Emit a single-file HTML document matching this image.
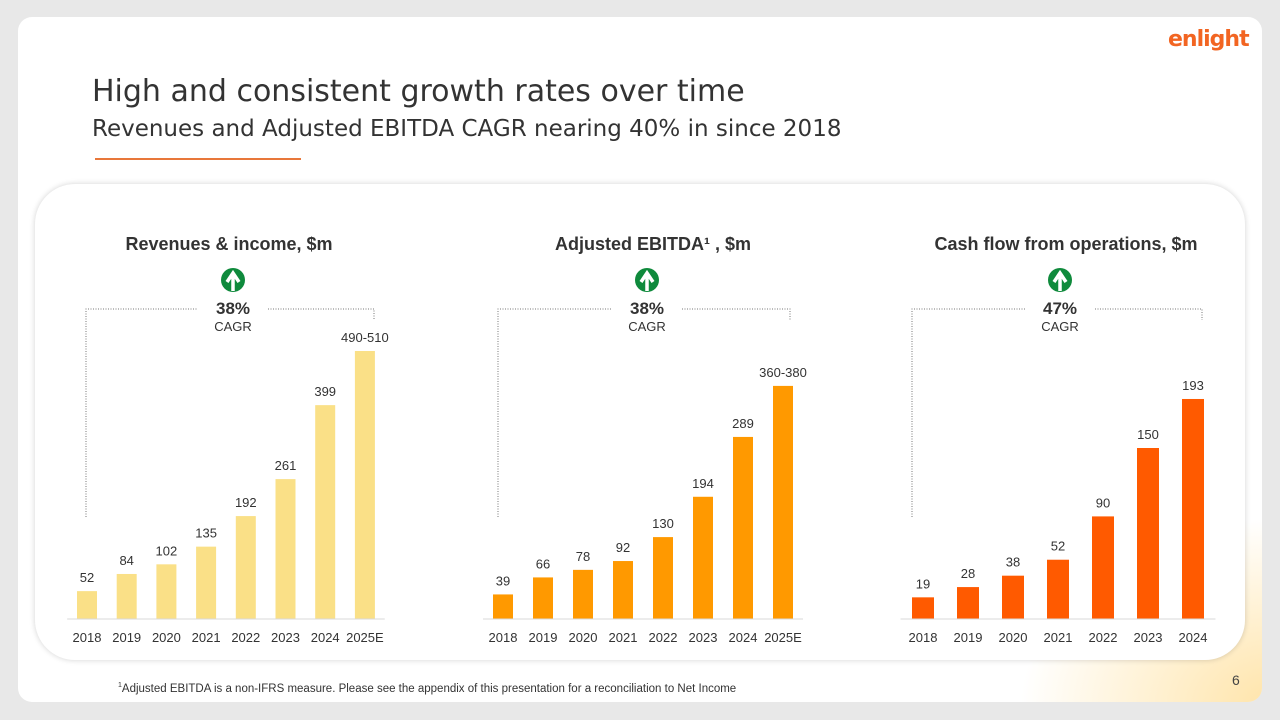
<!DOCTYPE html>
<html><head><meta charset="utf-8"><style>
body{margin:0;width:1280px;height:720px;background:#e8e8e8;font-family:"Liberation Sans",sans-serif;overflow:hidden;position:relative}
.slide{position:absolute;left:18px;top:17px;width:1244px;height:685px;background:#fff;border-radius:14px;overflow:hidden}
.panel{position:absolute;left:35px;top:184px;width:1210px;height:476px;border-radius:40px;background:#fff;box-shadow:0 0 6px rgba(0,0,0,0.18)}
.glow{position:absolute;left:1000px;top:500px;width:260px;height:190px;background:radial-gradient(ellipse at 100% 100%,rgba(255,200,80,0.5),rgba(255,220,120,0) 70%)}
</style></head><body>
<div class="slide"><div class="glow"></div></div>
<div style="position:absolute;left:1168px;top:27px;font:bold 22px 'DejaVu Sans',sans-serif;color:#f26522;letter-spacing:-1px">enlight</div>
<div style="position:absolute;left:92px;top:74px;font:30px 'DejaVu Sans',sans-serif;color:#333">High and consistent growth rates over time</div>
<div style="position:absolute;left:92px;top:116px;font:23px 'DejaVu Sans',sans-serif;color:#333">Revenues and Adjusted EBITDA CAGR nearing 40% in since 2018</div>
<div style="position:absolute;left:95px;top:158px;width:206px;height:2px;background:#e8773a"></div>
<div class="panel"></div>
<svg id="ch" width="1280" height="720" style="position:absolute;left:0;top:0"></svg>
<div style="position:absolute;left:118px;top:682px;font-size:11.5px;color:#333"><sup style="font-size:7px">1</sup>Adjusted EBITDA is a non-IFRS measure. Please see the appendix of this presentation for a reconciliation to Net Income</div>
<div style="position:absolute;left:1232px;top:672px;font-size:14px;color:#444">6</div>
<script>
const revYears=["2018","2019","2020","2021","2022","2023","2024","2025E"];
const revValues=[52,84,102,135,192,261,399,500];
const revLabels=["52","84","102","135","192","261","399","490-510"];
const ebYears=["2018","2019","2020","2021","2022","2023","2024","2025E"];
const ebValues=[39,66,78,92,130,194,289,370];
const ebLabels=["39","66","78","92","130","194","289","360-380"];
const cfYears=["2018","2019","2020","2021","2022","2023","2024"];
const cfValues=[19,28,38,52,90,150,193];
const cfLabels=["19","28","38","52","90","150","193"];
const svg=document.getElementById('ch');const NS="http://www.w3.org/2000/svg";
function mk(t,a,txt){const e=document.createElementNS(NS,t);for(const k in a)e.setAttribute(k,a[k]);if(txt!==undefined)e.textContent=txt;svg.appendChild(e);return e;}
function chart(o){
 const base=619;
 const y=v=>base-v*o.scale;
 const x=i=>o.x0+i*o.step;
 const t=mk('text',{x:o.cx,y:250,'text-anchor':'middle','font-size':18,'font-weight':'bold',fill:'#333'},o.title);
 
 const ic=mk('circle',{cx:o.ic,cy:280,r:12,fill:'#0f8a3c'});
 
 mk('path',{d:`M${o.ic-6} ${282} L${o.ic} ${273} L${o.ic+6} ${282} M${o.ic} ${276} L${o.ic} ${291}`,stroke:'#fff','stroke-width':3.5,fill:'none'});
 const c=mk('text',{x:o.ic,y:314,'text-anchor':'middle','font-size':17,'font-weight':'bold',fill:'#333'},o.cagr);
 
 mk('text',{x:o.ic,y:331,'text-anchor':'middle','font-size':13,fill:'#333'},'CAGR');
 const L=o.L,R=o.R;
 const br=mk('path',{d:`M${L} 517 L${L} 309 L${o.ic-35} 309 M${o.ic+35} 309 L${R} 309 L${R} 320`,stroke:'#777','stroke-width':1,'stroke-dasharray':'1,1.5',fill:'none'});
 
 o.vals.forEach((v,i)=>{
  const b=mk('rect',{x:x(i)-o.bw/2,y:y(v),width:o.bw,height:base-y(v),fill:o.color});
  
  const l=mk('text',{x:x(i),y:y(v)-9,'text-anchor':'middle','font-size':13,fill:'#333'},o.labels[i]);
  
  const yl=mk('text',{x:x(i),y:642,'text-anchor':'middle','font-size':13,fill:'#333'},o.years[i]);
  
 });
 mk('line',{x1:o.x0-o.step/2,x2:x(o.years.length-1)+o.step/2,y1:base,y2:base,stroke:'#d9d9d9'});
}
chart({title:'Revenues & income, $m',cx:229,ic:233,L:86,R:374,cagr:'38%',x0:87,step:39.7,bw:20,scale:0.536,color:'#fae087',years:revYears,vals:revValues,labels:revLabels});
chart({title:'Adjusted EBITDA¹ , $m',cx:653,ic:647,L:498,R:790,cagr:'38%',x0:503,step:40,bw:20,scale:0.63,color:'#ff9900',years:ebYears,vals:ebValues,labels:ebLabels});
chart({title:'Cash flow from operations, $m',cx:1066,ic:1060,L:912,R:1202,cagr:'47%',x0:923,step:45,bw:22,scale:1.14,color:'#ff5a00',years:cfYears,vals:cfValues,labels:cfLabels});
</script>
</body></html>
